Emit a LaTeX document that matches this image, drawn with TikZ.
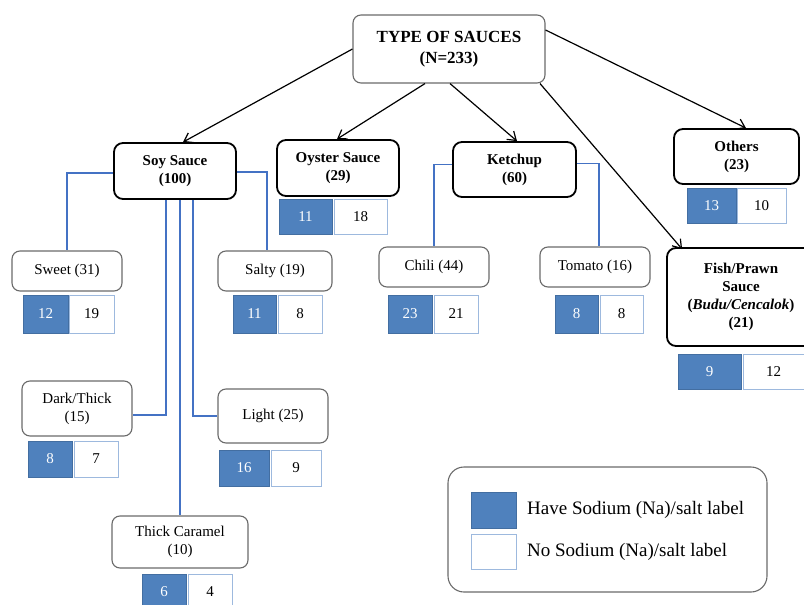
\documentclass[tikz,border=0pt]{standalone}
\usepackage{fontspec}
\setmainfont{Liberation Serif}
\usetikzlibrary{arrows.meta}
\definecolor{nablue}{HTML}{4F81BD}
\definecolor{lineblue}{HTML}{4472C4}
\definecolor{boxedge}{HTML}{9DB9DE}
\definecolor{subedge}{HTML}{6A6A6A}
\begin{document}
\begin{tikzpicture}[x=1pt,y=-1pt,
  mainbox/.style={draw=black, line width=1.8pt, rounded corners=9pt, align=center,
    font=\fontsize{15}{18}\selectfont\bfseries, inner sep=0pt},
  subbox/.style={draw=subedge, line width=1.1pt, rounded corners=8pt, align=center,
    font=\fontsize{15}{18}\selectfont, inner sep=0pt},
  hasna/.style={fill=nablue, draw=nablue!85!black, line width=0.8pt, text=white,
    inner sep=0pt, font=\fontsize{15}{18}\selectfont},
  nona/.style={fill=white, draw=boxedge, line width=1pt, text=black,
    inner sep=0pt, font=\fontsize{15}{18}\selectfont},
  arr/.style={draw=black, line width=1.2pt, -{Straight Barb[length=8pt,width=11pt]}},
  link/.style={draw=lineblue, line width=1.3pt}
]
\useasboundingbox (0,0) rectangle (804,605);

% top
\node[subbox, font=\fontsize{17}{21}\selectfont\bfseries, minimum width=192pt, minimum height=68pt]
  (top) at (449,49) {TYPE OF SAUCES\\(N=233)};

% main categories
\node[mainbox, minimum width=122pt, minimum height=56pt] (soy) at (175,171) {Soy Sauce\\(100)};
\node[mainbox, minimum width=122pt, minimum height=56pt] (oyster) at (338,168) {Oyster Sauce\\(29)};
\node[mainbox, minimum width=123pt, minimum height=55pt] (ketchup) at (514.5,169.5) {Ketchup\\(60)};
\node[mainbox, minimum width=125pt, minimum height=55pt] (others) at (736.5,156.5) {Others\\(23)};
\node[mainbox, minimum width=148pt, minimum height=98pt] (fish) at (741,297)
  {Fish/Prawn\\Sauce\\(\textit{Budu/Cencalok})\\(21)};

% sub categories
\node[subbox, minimum width=110pt, minimum height=40pt] (sweet) at (67,271) {Sweet (31)};
\node[subbox, minimum width=114pt, minimum height=40pt] (salty) at (275,271) {Salty (19)};
\node[subbox, minimum width=110pt, minimum height=40pt] (chili) at (434,267) {Chili (44)};
\node[subbox, minimum width=110pt, minimum height=40pt] (tomato) at (595,267) {Tomato (16)};
\node[subbox, minimum width=110pt, minimum height=55pt] (dark) at (77,408.5) {Dark/Thick\\(15)};
\node[subbox, minimum width=110pt, minimum height=54pt] (light) at (273,416) {Light (25)};
\node[subbox, minimum width=136pt, minimum height=52pt] (caramel) at (180,542) {Thick Caramel\\(10)};

% count boxes
\node[hasna, minimum width=53pt, minimum height=35pt] (oysterH) at (305.5,216.5) {11};
\node[nona, minimum width=53pt, minimum height=35pt] (oysterN) at (360.5,216.5) {18};
\node[hasna, minimum width=49pt, minimum height=35pt] (othersH) at (711.5,205.5) {13};
\node[nona, minimum width=49pt, minimum height=35pt] (othersN) at (761.5,205.5) {10};
\node[hasna, minimum width=63pt, minimum height=35pt] (fishH) at (709.5,371.5) {9};
\node[nona, minimum width=61pt, minimum height=35pt] (fishN) at (773.5,371.5) {12};
\node[hasna, minimum width=45pt, minimum height=38pt] (sweetH) at (45.5,314) {12};
\node[nona, minimum width=45pt, minimum height=38pt] (sweetN) at (91.5,314) {19};
\node[hasna, minimum width=43pt, minimum height=38pt] (saltyH) at (254.5,314) {11};
\node[nona, minimum width=44pt, minimum height=38pt] (saltyN) at (300,314) {8};
\node[hasna, minimum width=44pt, minimum height=38pt] (chiliH) at (410,314) {23};
\node[nona, minimum width=44pt, minimum height=38pt] (chiliN) at (456,314) {21};
\node[hasna, minimum width=43pt, minimum height=38pt] (tomatoH) at (576.5,314) {8};
\node[nona, minimum width=43pt, minimum height=38pt] (tomatoN) at (621.5,314) {8};
\node[hasna, minimum width=44pt, minimum height=36pt] (darkH) at (50,459) {8};
\node[nona, minimum width=44pt, minimum height=36pt] (darkN) at (96,459) {7};
\node[hasna, minimum width=50pt, minimum height=36pt] (lightH) at (244,468) {16};
\node[nona, minimum width=50pt, minimum height=36pt] (lightN) at (296,468) {9};
\node[hasna, minimum width=44pt, minimum height=36pt] (caramelH) at (164,592) {6};
\node[nona, minimum width=44pt, minimum height=36pt] (caramelN) at (210,592) {4};

% legend
\node[subbox, minimum width=319pt, minimum height=125pt, rounded corners=16pt] (legend) at (607.5,529.5) {};
\node[hasna, minimum width=45pt, minimum height=36pt] (legH) at (493.5,510) {};
\node[nona, minimum width=45pt, minimum height=35pt] (legN) at (493.5,551.5) {};
\node[anchor=west, inner sep=0pt, font=\fontsize{19}{22}\selectfont] (legHt) at (527,510) {Have Sodium (Na)/salt label};
\node[anchor=west, inner sep=0pt, font=\fontsize{19}{22}\selectfont] (legNt) at (527,552) {No Sodium (Na)/salt label};

% black arrows
\draw[arr] (top.west) -- ([xshift=8pt]soy.north);
\draw[arr] ([xshift=-24pt]top.south) -- ([xshift=-1pt]oyster.north);
\draw[arr] ([xshift=1pt]top.south) -- ([xshift=2.5pt]ketchup.north);
\draw[arr] ([xshift=91pt]top.south) -- ([xshift=16pt,yshift=-2pt]fish.north west);
\draw[arr] ([yshift=19pt]top.east) -- ([xshift=9.5pt]others.north);

% blue links
\draw[link] ([yshift=-2pt]soy.west) -| (sweet.north);
\draw[link] ([yshift=-1pt]soy.east) -| ([xshift=-8pt]salty.north);
\draw[link] ([xshift=-9pt]soy.south) |- ([yshift=-6.5pt]dark.east);
\draw[link] (caramel.north |- soy.south) -- (caramel.north);
\draw[link] ([xshift=18pt]soy.south) |- (light.west);
\draw[link] ([yshift=5pt]ketchup.west) -| (chili.north);
\draw[link] ([yshift=6pt]ketchup.east) -| ([xshift=4pt]tomato.north);
\end{tikzpicture}
\end{document}
